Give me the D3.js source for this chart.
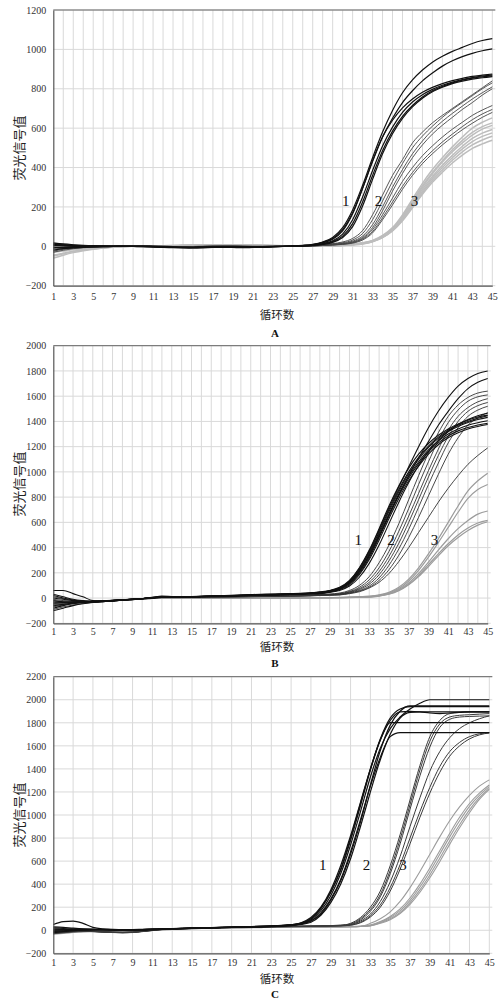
<!DOCTYPE html>
<html><head><meta charset="utf-8">
<script src="https://cdn.jsdelivr.net/npm/d3@7/dist/d3.min.js"></script>
<style>body{margin:0;background:#fff}svg{display:block}</style>
</head><body>
<svg id="chart" width="500" height="1003"></svg>
<script>
// ---------- DATA ----------
const cycles = [1,2,3,4,5,6,7,8,9,10,11,12,13,14,15,16,17,18,19,20,21,22,23,24,25,26,27,28,29,30,31,32,33,34,35,36,37,38,39,40,41,42,43,44,45];
const xTickLabels = [1,3,5,7,9,11,13,15,17,19,21,23,25,27,29,31,33,35,37,39,41,43,45];
const yTicksA = [-200,0,200,400,600,800,1000,1200];
const yTicksB = [-200,0,200,400,600,800,1000,1200,1400,1600,1800,2000];
const yTicksC = [-200,0,200,400,600,800,1000,1200,1400,1600,1800,2000,2200];
const yTitle = "荧光信号值";
const xTitle = "循环数";
const panelNames = ["A","B","C"];
const groupLabels = ["1","2","3"];
// label anchor positions [cycle, value]
const labelPosA = [[30.3,231],[33.6,231],[37.2,231]];
const labelPosB = [[31.9,460],[35.2,460],[39.6,460]];
const labelPosC = [[28.2,566],[32.6,566],[36.3,566]];

// Panel A
const A_g1 = [
 [18,12,8,5,3, 2,1,0,-1,-2, -4,-6,-7,-7,-6, -5,-4,-4,-3,-4, -5,-4,-2,0,2, 5,10,22,45,95, 185,310,450,580,690, 780,845,895,935,965, 990,1010,1030,1045,1055],
 [10,6,4,3,2, 1,0,0,-1,-2, -3,-5,-6,-8,-9, -8,-6,-5,-6,-7, -6,-5,-3,-1,1, 4,9,20,40,85, 170,295,430,555,650, 730,790,840,880,915, 942,963,980,993,1003],
 [-20,-12,-8,-5,-3, -2,-1,0,0,1, 0,-2,-3,-4,-5, -4,-3,-3,-2,-2, -3,-2,-1,0,1, 3,8,18,36,78, 165,295,435,555,640, 703,748,782,807,826, 841,853,863,869,875],
 [5,2,0,-1,-1, 0,0,1,1,0, -1,-3,-5,-6,-6, -5,-4,-3,-3,-4, -4,-3,-2,-1,0, 2,6,14,28,62, 135,250,385,510,605, 680,733,770,797,818, 834,847,857,865,871],
 [-5,-6,-5,-4,-3, -2,-1,0,0,0, -1,-2,-4,-5,-5, -4,-3,-3,-2,-3, -3,-2,-1,0,0, 2,5,12,24,52, 115,225,360,485,585, 660,715,758,790,812, 830,844,854,861,866],
 [12,8,5,3,2, 1,1,0,0,-1, -2,-4,-5,-6,-6, -5,-4,-3,-3,-3, -4,-3,-2,-1,0, 1,4,10,20,45, 100,205,340,470,572, 650,708,752,785,808, 826,839,849,856,862]
];
const A_g2 = [
 [-10,-6,-4,-3,-2, -1,0,0,0,1, 1,0,-1,-2,-2, -1,0,0,1,0, -1,-1,0,0,1, 2,5,9,14,22, 40,80,160,260,360, 440,525,580,627,665, 700,735,770,805,840],
 [8,5,3,2,1, 1,0,0,1,1, 0,-1,-2,-2,-1, 0,1,1,0,-1, -2,-1,0,0,0, 1,4,8,12,18, 32,65,135,230,330, 420,500,560,610,655, 695,730,765,800,830],
 [-25,-15,-9,-6,-4, -2,-1,0,0,0, 0,-1,-1,-2,-2, -1,0,1,1,0, -1,-1,0,0,0, 1,3,6,10,15, 26,52,110,200,300, 390,470,535,590,635, 675,712,748,780,810],
 [2,1,0,0,-1, -1,0,0,0,1, 1,0,-1,-1,-2, -1,0,1,1,0, 0,-1,0,0,0, 0,3,6,9,13, 22,45,95,180,280, 370,450,515,570,615, 655,695,730,768,800],
 [-15,-10,-6,-4,-2, -1,0,0,1,1, 0,0,-1,-2,-2, -1,0,0,0,0, -1,0,0,0,0, 0,2,5,8,12, 20,40,85,160,245, 330,400,460,510,555, 595,630,665,692,715],
 [15,10,6,4,2, 1,1,0,0,0, -1,-2,-3,-3,-2, -1,0,0,0,-1, -2,-1,0,0,0, 0,2,4,7,11, 18,36,75,145,225, 305,375,435,485,530, 570,608,643,672,695],
 [-30,-20,-12,-7,-4, -2,-1,0,0,0, 0,0,-1,-1,-1, 0,0,1,1,0, 0,0,0,0,0, 0,2,4,6,10, 16,32,68,135,210, 290,360,420,470,515, 555,592,625,655,680]
];
const A_g3 = [
 [-60,-45,-32,-22,-15, -9,-5,-2,0,1, 2,3,4,5,6, 7,8,8,8,7, 6,5,4,3,2, 0,1,2,4,7, 11,18,30,55,95, 160,240,320,390,450, 505,555,600,630,652],
 [-45,-35,-25,-18,-12, -7,-4,-1,0,1, 2,3,4,5,6, 7,7,8,7,7, 6,5,4,3,2, 0,1,2,4,6, 10,17,28,52,90, 152,230,308,375,435, 490,538,578,608,627],
 [-30,-24,-18,-13,-9, -5,-3,-1,0,1, 2,2,3,4,5, 6,7,7,7,6, 5,4,3,2,1, 0,1,2,3,6, 10,16,27,50,88, 148,225,300,368,428, 480,525,565,595,614],
 [-20,-16,-12,-9,-6, -4,-2,0,0,1, 1,2,3,4,5, 5,6,6,6,5, 4,3,2,2,1, 0,1,2,3,5, 9,15,26,48,85, 142,215,290,355,412, 462,508,548,575,593],
 [-12,-10,-8,-6,-4, -3,-1,0,1,1, 2,2,3,3,4, 5,5,6,5,5, 4,3,2,1,1, 0,0,1,3,5, 8,14,25,46,82, 138,208,280,345,400, 450,495,532,558,576],
 [-8,-6,-5,-4,-3, -2,-1,0,0,1, 1,2,2,3,4, 4,5,5,5,4, 3,2,2,1,0, 0,0,1,2,4, 8,13,24,45,80, 134,202,272,335,388, 437,480,515,540,559],
 [-50,-38,-27,-19,-13, -8,-4,-2,0,1, 1,2,3,4,5, 6,7,7,6,6, 5,4,3,2,1, 0,0,1,2,4, 7,12,23,44,78, 130,196,264,325,376, 423,463,497,520,539]
];

// Panel B
const B_g1 = [
 [60,60,35,10,-20, -25,-20,-15,-10,-5, 5,15,12,10,12, 15,18,20,22,25, 28,30,32,34,36, 38,42, 50,60,85,140,240, 380,550,730,890,1030, 1140,1225,1290,1340,1380, 1410,1435,1450],
 [20,0,-15,-25,-30, -28,-22,-16,-10,-4, 6,12,10,9,11, 14,16,18,20,22, 25,27,29,31,33, 36,40, 45,58,80,130,225, 360,525,700,860,1000, 1115,1205,1275,1330,1370, 1400,1425,1445],
 [-40,-35,-30,-28,-26, -24,-20,-15,-10,-5, 3,10,9,8,10, 12,15,17,19,21, 23,25,27,29,31, 34,38, 42,55,78,125,215, 345,510,685,845,985, 1100,1195,1265,1320,1360, 1392,1415,1432],
 [-100,-80,-60,-45,-35, -28,-22,-16,-11,-6, 2,8,8,8,10, 12,14,16,18,20, 22,24,26,28,30, 32,36, 40,52,72,118,205, 335,495,665,825,965, 1080,1175,1245,1300,1340, 1370,1390,1405],
 [-60,-50,-40,-33,-28, -24,-20,-15,-10,-6, 0,6,7,8,9, 11,13,15,17,19, 21,23,25,27,29, 31,34, 38,50,70,112,195, 320,480,650,810,950, 1065,1160,1230,1285,1325, 1352,1372,1385],
 [-20,-30,-35,-35,-32, -28,-22,-17,-12,-7, 0,5,6,7,8, 10,12,14,16,18, 20,22,24,26,28, 30,33, 36,48,66,105,185, 305,460,630,790,930, 1045,1140,1215,1270,1310, 1340,1360,1375],
 [0,-10,-20,-28,-30, -27,-22,-17,-12,-6, 1,7,7,7,8, 10,12,14,16,18, 20,22,24,26,28, 30,32, 35,45,60,95,165, 275,420,590,760,915, 1050,1160,1250,1320,1375, 1415,1445,1465],
 [-80,-60,-45,-35,-30, -26,-22,-17,-12,-6, 2,8,9,9,10, 12,14,16,18,20, 22,24,26,28,30, 33,38, 45,58,82,135,235, 370,540,715,880,1040, 1200,1350,1480,1590,1680, 1740,1780,1800],
 [30,10,-10,-20,-25, -24,-20,-15,-10,-5, 3,9,9,9,10, 12,14,16,18,20, 22,24,26,28,30, 32,36, 40,52,75,120,210, 335,490,660,820,970, 1110,1240,1370,1480,1580, 1660,1710,1740]
];
const B_g2 = [
 [-50,-45,-38,-32,-27, -23,-19,-15,-10,-5, 2,7,7,7,8, 10,12,13,14,15, 16,17,18,19,20, 22,24,27,32, 40,60,100,170,280, 420,590,780,970,1150, 1310,1440,1530,1590,1625, 1640],
 [-30,-30,-28,-26,-24, -21,-17,-13,-9,-4, 3,8,8,7,8, 9,11,12,13,14, 15,16,17,18,19, 20,22,25,29, 35,52,85,145,240, 370,530,710,900,1080, 1250,1390,1490,1560,1595, 1610],
 [10,-5,-18,-25,-27, -24,-19,-14,-9,-4, 2,6,6,6,7, 8,10,11,12,13, 14,15,16,17,18, 19,21,24,28, 32,48,75,125,210, 330,480,650,830,1010, 1180,1330,1440,1510,1555, 1580],
 [-70,-55,-42,-34,-28, -24,-19,-14,-9,-4, 2,6,6,6,7, 8,9,10,11,12, 13,14,15,16,17, 18,20,23,26, 30,44,68,110,185, 295,435,600,780,960, 1130,1280,1400,1480,1525, 1550],
 [-40,-38,-34,-30,-27, -23,-18,-13,-8,-4, 1,5,5,5,6, 7,8,9,10,11, 12,13,14,15,16, 17,19,22,25, 28,40,60,95,160, 260,390,545,720,900, 1070,1230,1350,1440,1490, 1520],
 [-10,-20,-25,-27,-26, -23,-18,-13,-9,-4, 1,5,5,5,6, 7,8,9,10,11, 12,13,14,15,16, 17,18,21,24, 26,38,55,85,140, 225,340,480,640,810, 980,1140,1270,1370,1430, 1470],
 [-90,-70,-55,-42,-33, -26,-20,-14,-9,-4, 1,4,4,4,5, 6,7,8,9,10, 11,12,13,14,15, 16,18,20,22, 25,35,50,80,125, 195,290,400,520,640, 760,870,970,1060,1130, 1190]
];
const B_g3 = [
 [-60,-50,-42,-35,-30, -25,-20,-15,-10,-6, -2,0,0,0,0, 1,1,2,2,2, 2,2,2,2,2, 2,3,3,4,5, 7,10, 15,25,45,85,150, 240,350,470,600,730, 850,930,990],
 [-30,-30,-30,-30,-28, -24,-20,-15,-10,-6, -2,0,0,0,0, 0,1,1,1,1, 1,1,2,2,2, 2,2,3,3,4, 6,9, 12,22,40,75,135, 220,325,440,560,680, 790,860,900],
 [-20,-25,-28,-29,-28, -24,-19,-14,-10,-6, -3,-1,-1,-1,0, 0,0,0,1,1, 1,1,1,1,1, 1,2,2,3,4, 5,8, 10,20,36,68,120, 195,285,380,470,550, 615,665,690],
 [-45,-40,-36,-32,-28, -24,-19,-14,-10,-6, -3,-1,-1,-1,0, 0,0,0,0,1, 1,1,1,1,1, 1,1,2,2,3, 5,7, 10,18,33,62,110, 180,265,350,430,500, 555,595,615],
 [-35,-33,-31,-29,-27, -23,-19,-14,-10,-6, -3,-2,-1,-1,-1, 0,0,0,0,0, 0,1,1,1,1, 1,1,1,2,3, 4,6, 8,16,30,58,105, 170,250,335,415,480, 535,578,605]
];

// Panel C
const C_g1 = [
 [50,75,80,60,25, 12,8,6,6,8, 10,12,14,16,18, 20,22,24,26,28, 30,33,36, 40,45,55,80,140, 260,430,660,940,1260, 1560,1780,1900,1946,1946, 1946,1946,1946,1946,1946, 1946,1946],
 [10,8,6,6,6, 5,4,3,3,5, 8,10,12,14,16, 18,20,22,24,26, 28,31,34, 38,45,62,100,190, 330,520,780,1080,1390, 1650,1820,1895,1900,1895, 1885,1880,1885,1890,1895, 1895,1895],
 [-10,-5,0,2,3, 2,0,-2,-2,0, 4,8,11,14,16, 18,20,22,24,26, 28,30,33, 36,42,55,90,170, 300,490,740,1030,1330, 1580,1750,1850,1920,1970, 2000,2000,2000,2000,2000, 2000,2000],
 [20,15,12,10,9, 8,6,5,4,6, 9,12,15,17,19, 21,23,25,27,29, 31,34,37, 41,48,65,110,200, 350,560,820,1110,1400, 1650,1801,1801,1801,1801, 1801,1801,1801,1801,1801, 1801,1801],
 [0,2,4,5,6, 5,4,3,3,5, 8,11,14,16,18, 20,22,24,26,28, 30,32,35, 38,44,58,80,150, 270,440,680,960,1250, 1500,1680,1714,1714,1714, 1714,1714,1714,1714,1714, 1714,1714],
 [30,25,18,12,8, 6,5,4,4,6, 9,12,14,16,18, 20,23,25,27,29, 32,35,38, 42,50,60,100,190, 330,530,800,1100,1400, 1660,1840,1920,1940,1940, 1940,1940,1940,1940,1940, 1940,1940],
 [-20,-12,-5,0,3, 3,2,1,1,3, 6,9,12,14,16, 18,20,22,24,26, 28,30,32, 35,40,50,70,130, 240,400,620,900,1200, 1480,1700,1840,1890,1895, 1895,1895,1895,1895,1895, 1895,1895]
];
const C_g2 = [
 [-20,-15,-10,-8,-10, -14,-18,-20,-18,-10, 0,8,12,15,18, 20,23,26,28,30, 31,32,33,34,35, 36,37,38,39, 40,60,110,200,340, 560,830,1130,1430,1680, 1820,1880,1890,1895,1895, 1895],
 [0,0,-2,-4,-8, -12,-16,-18,-16,-8, 2,9,12,15,18, 21,24,26,28,29, 30,31,32,33,34, 35,36,38,40, 45,55,100,180,310, 520,790,1090,1390,1640, 1790,1850,1865,1870,1875, 1880],
 [-30,-22,-14,-10,-10, -14,-18,-22,-20,-12, -2,6,10,14,17, 20,22,24,26,28, 29,30,31,32,33, 34,35,37,39, 42,50,90,165,290, 490,750,1050,1340,1590, 1760,1830,1850,1855,1858, 1860],
 [10,5,0,-5,-10, -14,-17,-18,-15,-8, 2,8,11,14,17, 20,23,25,27,28, 29,30,31,32,33, 34,35,36,38, 40,48,80,140,250, 420,640,900,1150,1380, 1550,1670,1750,1800,1835, 1860],
 [-10,-8,-6,-8,-12, -16,-20,-22,-18,-10, 0,7,10,13,16, 19,22,24,26,27, 28,29,30,31,32, 33,34,35,37, 39,45,70,125,220, 370,570,800,1030,1240, 1420,1550,1630,1680,1705, 1714],
 [-25,-18,-12,-10,-12, -15,-18,-20,-17,-9, 1,7,10,13,16, 19,21,23,25,26, 27,28,29,30,31, 32,33,34,36, 38,44,65,115,200, 340,530,750,980,1190, 1370,1510,1600,1660,1695, 1712]
];
const C_g3 = [
 [-30,-25,-18,-12,-10, -12,-15,-17,-15,-8, 0,6,10,13,16, 18,20,22,24,25, 26,27,28,29,30, 30,31,31,32,32, 33, 35,60,100,160,250, 370,510,660,810,950, 1070,1170,1250,1305],
 [-20,-18,-14,-10,-9, -11,-14,-16,-14,-8, -1,5,9,12,15, 17,19,21,23,24, 25,26,27,28,29, 29,30,30,31,31, 32, 35,45,75,120,185, 280,400,540,690,840, 980,1100,1190,1260],
 [-35,-28,-20,-14,-11, -12,-15,-17,-15,-9, -1,5,9,12,14, 16,18,20,22,23, 24,25,26,27,28, 28,29,29,30,30, 31, 34,42,70,110,170, 260,375,510,660,810, 950,1075,1170,1246],
 [-15,-12,-10,-9,-9, -11,-14,-16,-14,-8, -1,4,8,11,14, 16,18,20,21,22, 23,24,25,26,27, 27,28,28,29,29, 30, 33,40,65,100,155, 240,350,480,625,775, 915,1045,1150,1231],
 [-25,-20,-15,-11,-10, -12,-15,-17,-15,-9, -2,4,8,11,13, 15,17,19,20,21, 22,23,24,25,26, 26,27,27,28,28, 29, 32,38,60,92,145, 225,330,455,595,745, 890,1020,1135,1222]
];

// ---------- DRAW ----------
const svg = d3.select("#chart");
const panels = [
  {name:panelNames[0], groups:[A_g3,A_g2,A_g1], yTicks:yTicksA, labels:labelPosA,
   top:10, bottom:285.7, right:492.3, gridStep:1, tickBase:300.5, titleBase:318.5, letterBase:337, yTitleY:148,
   colors:["#bdbdbd","#454545","#111"], widths:[1.5,0.9,1.2]},
  {name:panelNames[1], groups:[B_g3,B_g2,B_g1], yTicks:yTicksB, labels:labelPosB,
   top:345.7, bottom:623.3, right:487.7, gridStep:1, tickBase:635.2, titleBase:650.5, letterBase:667, yTitleY:484,
   colors:["#9c9c9c","#333","#111"], widths:[1.2,0.9,1.1]},
  {name:panelNames[2], groups:[C_g3,C_g2,C_g1], yTicks:yTicksC, labels:labelPosC,
   top:676.7, bottom:953.3, right:489.3, gridStep:2, tickBase:966.5, titleBase:982.5, letterBase:998, yTitleY:815,
   colors:["#9c9c9c","#3a3a3a","#111"], widths:[1.1,1.0,1.2]}
];
const left = 53.3;
const serif = "'Liberation Serif','Times New Roman',serif";
const fs = 10;

panels.forEach(p => {
  const yMin = p.yTicks[0], yMax = p.yTicks[p.yTicks.length-1];
  const x = d3.scaleLinear().domain([cycles[0], cycles[cycles.length-1]]).range([left, p.right]);
  const y = d3.scaleLinear().domain([yMin, yMax]).range([p.bottom, p.top]);
  const g = svg.append("g");
  const plotRight = p.right + 3;

  // grid
  g.append("g").selectAll("line").data(p.yTicks).join("line")
    .attr("x1", left).attr("x2", plotRight).attr("y1", d=>y(d)).attr("y2", d=>y(d))
    .attr("stroke", "#d9d9d9").attr("stroke-width", 1);
  const vg = cycles.filter(c => p.gridStep === 1 ? c > 1 : (c % 2 === 1 && c > 1));
  g.append("g").selectAll("line").data(vg).join("line")
    .attr("x1", d=>x(d)).attr("x2", d=>x(d)).attr("y1", p.top).attr("y2", p.bottom)
    .attr("stroke", "#d9d9d9").attr("stroke-width", 1);
  // top border
  g.append("line").attr("x1", left).attr("x2", plotRight).attr("y1", p.top).attr("y2", p.top)
    .attr("stroke", "#666").attr("stroke-width", 1);

  // lines
  const line = d3.line().x((d,i)=>x(cycles[i])).y(d=>y(d)).curve(d3.curveMonotoneX);
  p.groups.forEach((grp, gi) => {
    g.append("g").selectAll("path").data(grp).join("path")
      .attr("d", line).attr("fill", "none")
      .attr("stroke", p.colors[gi]).attr("stroke-width", p.widths[gi])
      .attr("stroke-linejoin", "round");
  });

  // axes
  const yAxis = d3.axisLeft(y).tickValues(p.yTicks).tickSize(0).tickPadding(7).tickFormat(d3.format("d"));
  const ya = g.append("g").attr("transform", `translate(${left},0)`).call(yAxis);
  ya.select(".domain").attr("stroke", "#555").attr("stroke-width", 1.2);
  ya.selectAll("text").attr("font-family", serif).attr("font-size", fs).attr("fill", "#333");

  const pad = p.tickBase - p.bottom - 0.71*fs;
  const xAxis = d3.axisBottom(x).tickValues(xTickLabels).tickSize(0).tickPadding(pad).tickFormat(d3.format("d"));
  const xa = g.append("g").attr("transform", `translate(0,${p.bottom})`).call(xAxis);
  xa.select(".domain").attr("stroke", "#555").attr("stroke-width", 1.2);
  xa.selectAll("text").attr("font-family", serif).attr("font-size", fs).attr("fill", "#333");

  // group labels
  g.append("g").selectAll("text").data(p.labels).join("text")
    .attr("x", d=>x(d[0])).attr("y", d=>y(d[1]))
    .attr("dy", "0.35em").attr("text-anchor", "middle")
    .attr("font-family", serif).attr("font-size", 15).attr("fill", "#111")
    .text((d,i)=>groupLabels[i]);

  // titles
  g.append("text").attr("transform", `translate(19,${p.yTitleY}) rotate(-90)`)
    .attr("text-anchor", "middle").attr("dy", "0.35em")
    .attr("font-family", "'Noto Sans CJK SC',sans-serif").attr("font-size", 13).attr("fill", "#222")
    .text(yTitle);
  g.append("text").attr("x", 277).attr("y", p.titleBase).attr("text-anchor", "middle")
    .attr("font-family", "'Noto Sans CJK SC',sans-serif").attr("font-size", 11.5).attr("fill", "#222")
    .text(xTitle);
  g.append("text").attr("x", 275).attr("y", p.letterBase).attr("text-anchor", "middle")
    .attr("font-family", serif).attr("font-size", 11).attr("font-weight", "bold").attr("fill", "#111")
    .text(p.name);
});
</script>
</body></html>
